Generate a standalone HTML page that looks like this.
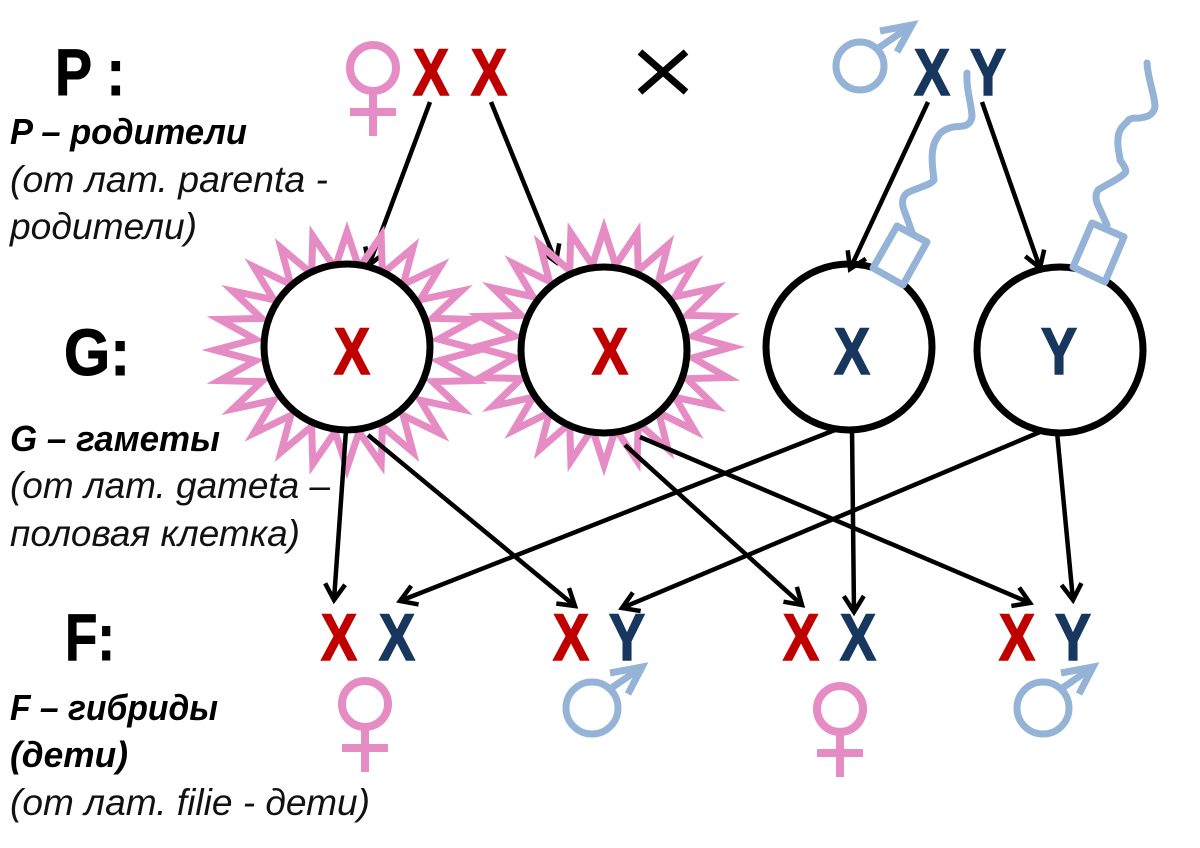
<!DOCTYPE html>
<html lang="ru">
<head>
<meta charset="utf-8">
<title>Наследование пола</title>
<style>
html,body{margin:0;padding:0;background:#fff;width:1200px;height:848px;overflow:hidden}
svg{display:block}
text{font-family:"Liberation Sans","DejaVu Sans",sans-serif}
.big{font-weight:700;font-size:66px;fill:#000;stroke:#000;stroke-width:1}
.l{font-weight:700;font-size:66px;text-anchor:middle;stroke-width:1.6}
.r{fill:#c00000;stroke:#c00000}
.b{fill:#17375e;stroke:#17375e}
.cap{font-size:37px;font-style:italic;fill:#111}
.capb{font-size:36px;font-style:italic;font-weight:700;fill:#000}
.arr{stroke:#000;stroke-width:4.5;fill:none;marker-end:url(#ah)}
.circ{fill:#fff;stroke:#000;stroke-width:7}
.star{fill:none;stroke:#e68cc4;stroke-width:7;stroke-linejoin:miter;stroke-miterlimit:10;vector-effect:non-scaling-stroke}
.fem{fill:none;stroke:#e68cc4;stroke-width:8}
.mal{fill:none;stroke:#95b3d7;stroke-width:7}
.tail{fill:none;stroke:#95b3d7;stroke-width:7;stroke-linecap:round;stroke-linejoin:round}
.head{fill:#fff;stroke:#95b3d7;stroke-width:7;stroke-linejoin:round}
</style>
</head>
<body>
<svg xmlns="http://www.w3.org/2000/svg" width="1200" height="848" viewBox="0 0 1200 848">
<defs>
<marker id="ah" markerUnits="userSpaceOnUse" markerWidth="30" markerHeight="30" refX="20" refY="15" orient="auto">
<path d="M4,5 L20,15 L4,25" fill="none" stroke="#000" stroke-width="4.5"/>
</marker>
<polygon id="st" class="star" points="0,-1000 91,-694 259,-966 268,-647 500,-866 426,-555 707,-707 555,-426 866,-500 647,-268 966,-259 694,-91 1000,0 694,91 966,259 647,268 866,500 555,426 707,707 426,555 500,866 268,647 259,966 91,694 0,1000 -91,694 -259,966 -268,647 -500,866 -426,555 -707,707 -555,426 -866,500 -647,268 -966,259 -694,91 -1000,0 -694,-91 -966,-259 -647,-268 -866,-500 -555,-426 -707,-707 -426,-555 -500,-866 -268,-647 -259,-966 -91,-694"/>
<g id="female">
<circle cx="0" cy="0" r="23" class="fem"/>
<path d="M0,23 V68 M-23,44 H23" class="fem"/>
</g>
<g id="male">
<circle cx="0" cy="0" r="24" class="mal"/>
<path d="M17,-17 L49,-39" class="mal"/>
<path d="M20,-35 L52,-41 L37,-14" class="mal" stroke-linejoin="miter"/>
</g>
<g id="male2">
<circle cx="0" cy="0" r="26" class="mal"/>
<path d="M18,-19 L47,-39" class="mal"/>
<path d="M18,-35 L50,-41 L36,-14" class="mal" stroke-linejoin="miter"/>
</g>
</defs>

<!-- arrows under stars -->
<path class="arr" d="M430,102 L369,265"/>
<path class="arr" d="M491,102 L556,262"/>

<!-- stars -->
<use href="#st" transform="translate(347,350) scale(.132,.118)"/>
<use href="#st" transform="translate(604,347) scale(.128,.118)"/>

<!-- gamete circles -->
<circle class="circ" cx="347" cy="347" r="83"/>
<circle class="circ" cx="604" cy="350" r="83"/>
<circle class="circ" cx="849" cy="347" r="83"/>
<circle class="circ" cx="1060" cy="350" r="83"/>

<!-- arrows -->
<path class="arr" d="M928,102 L850,269"/>
<path class="arr" d="M982,102 L1040,268"/>
<path class="arr" d="M346,430 L334,600"/>
<path class="arr" d="M368,435 L575,606"/>
<path class="arr" d="M625,445 L802,605"/>
<path class="arr" d="M640,437 L1030,603"/>
<path class="arr" d="M852,428 L854,612"/>
<path class="arr" d="M840,428 L400,601"/>
<path class="arr" d="M1040,432 L622,608"/>
<path class="arr" d="M1057,432 L1073,600"/>

<!-- sperm -->
<path class="tail" d="M967,73 C966,90 972,105 972,117 C970,128 960,126 953,127 C945,129 940,132 937,138 C930,148 932,165 934,180 C930,186 915,188 907,193 C902,197 902,202 903,207 L912,232"/>
<polygon class="head" points="897,226 927,242 903,285 873,268"/>
<path class="tail" d="M1147,63 C1148,80 1155,95 1155,107 C1153,116 1146,117 1140,118 C1133,118 1129,118 1127,122 C1120,128 1118,133 1118,140 C1117,148 1120,155 1120,160 C1125,167 1127,171 1125,173 C1118,180 1105,185 1098,190 C1095,195 1096,199 1097,203 L1107,225"/>
<polygon class="head" points="1092,223 1124,237 1105,282 1073,267"/>

<!-- big labels -->
<text class="big" x="55" y="95" textLength="70" lengthAdjust="spacingAndGlyphs">P :</text>
<text class="big" x="64" y="375" textLength="66" lengthAdjust="spacingAndGlyphs">G:</text>
<text class="big" x="65" y="660" textLength="50" lengthAdjust="spacingAndGlyphs">F:</text>

<!-- P row -->
<use href="#female" transform="translate(373,68)"/>
<text class="l r" x="431" y="95" textLength="36" lengthAdjust="spacingAndGlyphs">X</text>
<text class="l r" x="489" y="95" textLength="36" lengthAdjust="spacingAndGlyphs">X</text>
<path d="M640,52 L686,92 M686,52 L640,92" stroke="#000" stroke-width="7" fill="none"/>
<use href="#male" transform="translate(860,66)"/>
<text class="l b" x="932" y="95" textLength="36" lengthAdjust="spacingAndGlyphs">X</text>
<text class="l b" x="988" y="95" textLength="36" lengthAdjust="spacingAndGlyphs">Y</text>

<!-- G row -->
<text class="l r" x="352" y="374" textLength="36" lengthAdjust="spacingAndGlyphs">X</text>
<text class="l r" x="610" y="374" textLength="36" lengthAdjust="spacingAndGlyphs">X</text>
<text class="l b" x="852" y="374" textLength="36" lengthAdjust="spacingAndGlyphs">X</text>
<text class="l b" x="1059" y="374" textLength="36" lengthAdjust="spacingAndGlyphs">Y</text>

<!-- F row -->
<text class="l r" x="339" y="660" textLength="36" lengthAdjust="spacingAndGlyphs">X</text>
<text class="l b" x="397" y="660" textLength="36" lengthAdjust="spacingAndGlyphs">X</text>
<text class="l r" x="571" y="660" textLength="36" lengthAdjust="spacingAndGlyphs">X</text>
<text class="l b" x="627" y="660" textLength="36" lengthAdjust="spacingAndGlyphs">Y</text>
<text class="l r" x="801" y="660" textLength="36" lengthAdjust="spacingAndGlyphs">X</text>
<text class="l b" x="858" y="660" textLength="36" lengthAdjust="spacingAndGlyphs">X</text>
<text class="l r" x="1017" y="660" textLength="36" lengthAdjust="spacingAndGlyphs">X</text>
<text class="l b" x="1073" y="660" textLength="36" lengthAdjust="spacingAndGlyphs">Y</text>

<use href="#female" transform="translate(365,704)"/>
<use href="#male2" transform="translate(592,708)"/>
<use href="#female" transform="translate(840,709)"/>
<use href="#male2" transform="translate(1043,708)"/>

<!-- captions -->
<text class="capb" x="10" y="144" textLength="237" lengthAdjust="spacingAndGlyphs">P – родители</text>
<text class="cap" x="10" y="192" textLength="318" lengthAdjust="spacingAndGlyphs">(от лат. parenta -</text>
<text class="cap" x="10" y="239" textLength="187" lengthAdjust="spacingAndGlyphs">родители)</text>
<text class="capb" x="10" y="451" textLength="210" lengthAdjust="spacingAndGlyphs">G – гаметы</text>
<text class="cap" x="10" y="498" textLength="320" lengthAdjust="spacingAndGlyphs">(от лат. gameta –</text>
<text class="cap" x="10" y="546" textLength="290" lengthAdjust="spacingAndGlyphs">половая клетка)</text>
<text class="capb" x="10" y="720" textLength="208" lengthAdjust="spacingAndGlyphs">F – гибриды</text>
<text class="capb" x="10" y="767" textLength="118" lengthAdjust="spacingAndGlyphs">(дети)</text>
<text class="cap" x="10" y="815" textLength="360" lengthAdjust="spacingAndGlyphs">(от лат. filie - дети)</text>
</svg>
</body>
</html>
